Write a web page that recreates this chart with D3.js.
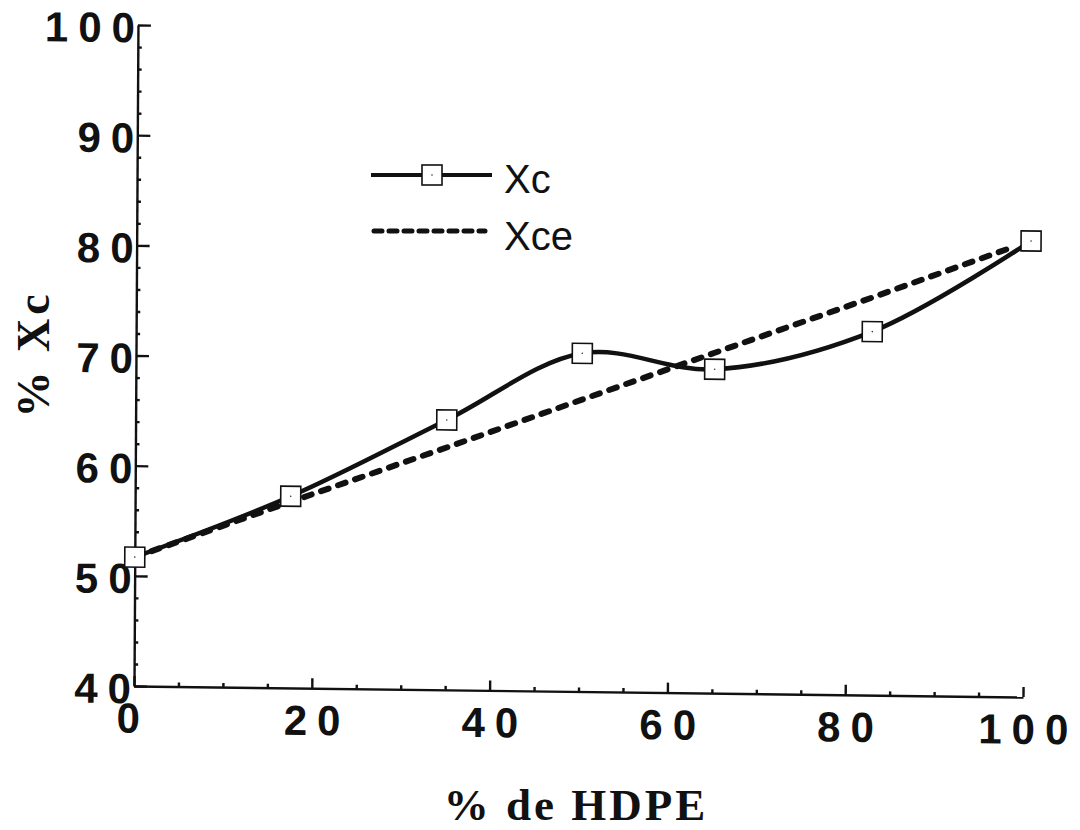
<!DOCTYPE html>
<html>
<head>
<meta charset="utf-8">
<script src="https://cdn.jsdelivr.net/npm/d3@7"></script>
<style>
body { margin: 0; background: #fff; }
svg { display: block; }
</style>
</head>
<body>
<svg width="1080" height="830"></svg>
<script>
// values
const hdpe = [0, 17.5, 35, 50.2, 65.1, 82.8, 100.6]
const xc = [51.7, 57.4, 64.5, 70.7, 69.4, 73.0, 81.4]
const hdpeXce = [0, 17.5, 35, 50.2, 65.1, 82.8, 98.8]
const xce = [51.7, 56.9, 62.0, 66.5, 70.9, 76.1, 80.9]
const xTicks = [0, 20, 40, 60, 80, 100]
const yTicks = [40, 50, 60, 70, 80, 90, 100]
const seriesNames = ["Xc", "Xce"]
const xTitle = "% de HDPE"
const yTitle = "% Xc"

const width = 889
const height = 661

const svg = d3.select("svg")

// the scan is slightly tilted, so the plot sits in a sheared frame
const g = svg.append("g")
  .attr("transform", "matrix(1,0.0124,-0.006,1,134,686)")

const x = d3.scaleLinear().domain([0, 100]).range([0, width])
const y = d3.scaleLinear().domain([40, 100]).range([0, -height])

const tickFont = "'Liberation Sans', Arial, sans-serif"
const ls = 10

// minor ticks
g.append("g")
  .call(d3.axisBottom(x).tickValues(d3.range(5, 100, 5).filter(d => d % 20)).tickSize(-4).tickFormat(""))
  .call(a => a.select(".domain").remove())
g.append("g")
  .call(d3.axisLeft(y).tickValues(d3.range(42, 100, 2).filter(d => d % 10)).tickSize(-4).tickFormat(""))
  .call(a => a.select(".domain").remove())

// major ticks + labels
const xAxis = g.append("g")
  .call(d3.axisBottom(x).tickValues(xTicks).tickSizeInner(-10).tickSizeOuter(0).tickPadding(17))
xAxis.selectAll("text")
  .attr("dx", d => d === 0 ? -6 + ls / 2 : ls / 2)

const yAxis = g.append("g")
  .call(d3.axisLeft(y).tickValues(yTicks).tickSizeInner(-13).tickSizeOuter(0).tickPadding(3))
yAxis.selectAll("text")
  .attr("dx", ls)
  .attr("dy", "0.4em")

g.selectAll(".tick line, .domain")
  .attr("stroke", "#111")
  .attr("stroke-width", 2.4)
g.selectAll(".tick text")
  .attr("fill", "#111")
  .style("font-family", tickFont)
  .style("font-weight", "bold")
  .style("font-size", "42px")
  .style("letter-spacing", ls + "px")

// Xce dashed line
const xceLine = d3.line()
  .x((d, i) => x(hdpeXce[i]))
  .y(d => y(d))
g.append("path")
  .datum(xce)
  .attr("d", xceLine)
  .attr("fill", "none")
  .attr("stroke", "#111")
  .attr("stroke-width", 6)
  .attr("stroke-linecap", "round")
  .attr("stroke-dasharray", "8,10")

// Xc smooth line
const xcLine = d3.line()
  .x((d, i) => x(hdpe[i]))
  .y(d => y(d))
  .curve(d3.curveCatmullRom.alpha(0.5))
g.append("path")
  .datum(xc)
  .attr("d", xcLine)
  .attr("fill", "none")
  .attr("stroke", "#111")
  .attr("stroke-width", 4.5)

const marks = g.selectAll(".mark")
  .data(xc)
  .join("g")
  .attr("class", "mark")
  .attr("transform", (d, i) => `translate(${x(hdpe[i])},${y(d)})`)
marks.append("rect")
  .attr("x", -10).attr("y", -10)
  .attr("width", 20).attr("height", 20)
  .attr("fill", "#fff")
  .attr("stroke", "#111")
  .attr("stroke-width", 1.6)
marks.append("circle")
  .attr("r", 0.8)
  .attr("fill", "#333")

// legend
const legend = svg.append("g")
legend.append("line")
  .attr("x1", 371).attr("x2", 492).attr("y1", 175).attr("y2", 175)
  .attr("stroke", "#111").attr("stroke-width", 4)
legend.append("rect")
  .attr("x", 422).attr("y", 165).attr("width", 20).attr("height", 20)
  .attr("fill", "#fff").attr("stroke", "#111").attr("stroke-width", 1.6)
legend.append("circle")
  .attr("cx", 432).attr("cy", 175).attr("r", 0.8).attr("fill", "#333")
legend.append("line")
  .attr("x1", 374).attr("x2", 485).attr("y1", 231).attr("y2", 231)
  .attr("stroke", "#111").attr("stroke-width", 5)
  .attr("stroke-linecap", "round")
  .attr("stroke-dasharray", "8,7")
legend.selectAll("text")
  .data(seriesNames)
  .join("text")
  .attr("x", 504)
  .attr("y", (d, i) => 193 + i * 57)
  .attr("fill", "#111")
  .style("font-family", "'Liberation Sans', Arial, sans-serif")
  .style("font-size", "40px")
  .text(d => d)

// axis titles
svg.append("text")
  .attr("x", 576)
  .attr("y", 820)
  .attr("text-anchor", "middle")
  .attr("fill", "#111")
  .style("font-family", "'Liberation Serif', 'Times New Roman', serif")
  .style("font-weight", "bold")
  .style("font-size", "45px")
  .style("letter-spacing", "3px")
  .text(xTitle)

svg.append("text")
  .attr("transform", "translate(49,354) rotate(-90)")
  .attr("text-anchor", "middle")
  .attr("fill", "#111")
  .style("font-family", "'Liberation Serif', 'Times New Roman', serif")
  .style("font-weight", "bold")
  .style("font-size", "46px")
  .style("letter-spacing", "4px")
  .text(yTitle)
</script>
</body>
</html>
